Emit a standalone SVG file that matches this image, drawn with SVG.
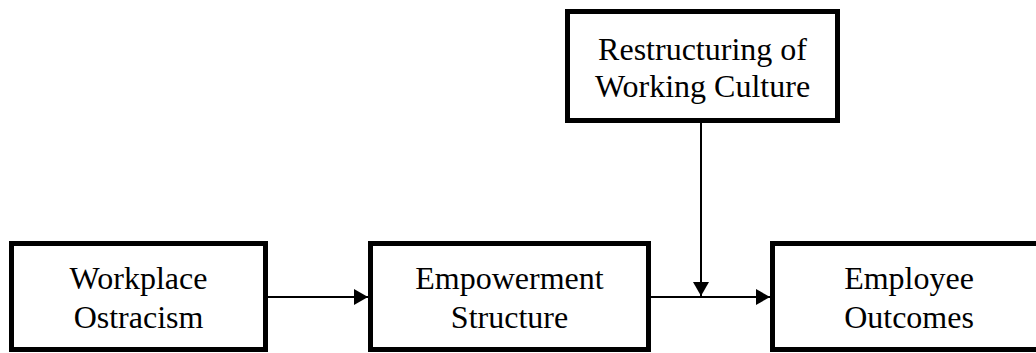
<svg xmlns="http://www.w3.org/2000/svg" width="1036" height="353" viewBox="0 0 1036 353">
<style>
.box{fill:#fff;stroke:#000;stroke-width:5}
.lbl{font-family:"Liberation Serif","Times New Roman",serif;font-size:32px;fill:#000;text-anchor:middle}
.con{stroke:#000;stroke-width:2;fill:none}
</style>
<defs>
<marker id="ah" viewBox="0 0 14 16" refX="14" refY="8" markerWidth="14" markerHeight="16" markerUnits="userSpaceOnUse" orient="auto">
<path d="M0,0 L14,8 L0,16 Z" fill="#000"/>
</marker>
</defs>
<rect x="0" y="0" width="1036" height="353" fill="#fff"/>
<g id="node-restructuring">
<rect class="box" x="567.5" y="11.5" width="270" height="109"/>
<text class="lbl" x="702.5" y="60">Restructuring of</text>
<text class="lbl" x="702.5" y="97">Working Culture</text>
</g>
<g id="node-ostracism">
<rect class="box" x="11.5" y="243.5" width="254" height="106"/>
<text class="lbl" x="138.5" y="289">Workplace</text>
<text class="lbl" x="138.5" y="328">Ostracism</text>
</g>
<g id="node-empowerment">
<rect class="box" x="370.5" y="243.5" width="278" height="106"/>
<text class="lbl" x="509.5" y="289">Empowerment</text>
<text class="lbl" x="509.5" y="328">Structure</text>
</g>
<g id="node-outcomes">
<rect class="box" x="772.5" y="243.5" width="274" height="106"/>
<text class="lbl" x="909" y="289">Employee</text>
<text class="lbl" x="909" y="328">Outcomes</text>
</g>
<g id="connectors">
<line class="con" x1="268" y1="297" x2="368" y2="297" marker-end="url(#ah)"/>
<line class="con" x1="651" y1="297" x2="770" y2="297" marker-end="url(#ah)"/>
<line class="con" x1="701" y1="123" x2="701" y2="296" marker-end="url(#ah)"/>
</g>
</svg>
